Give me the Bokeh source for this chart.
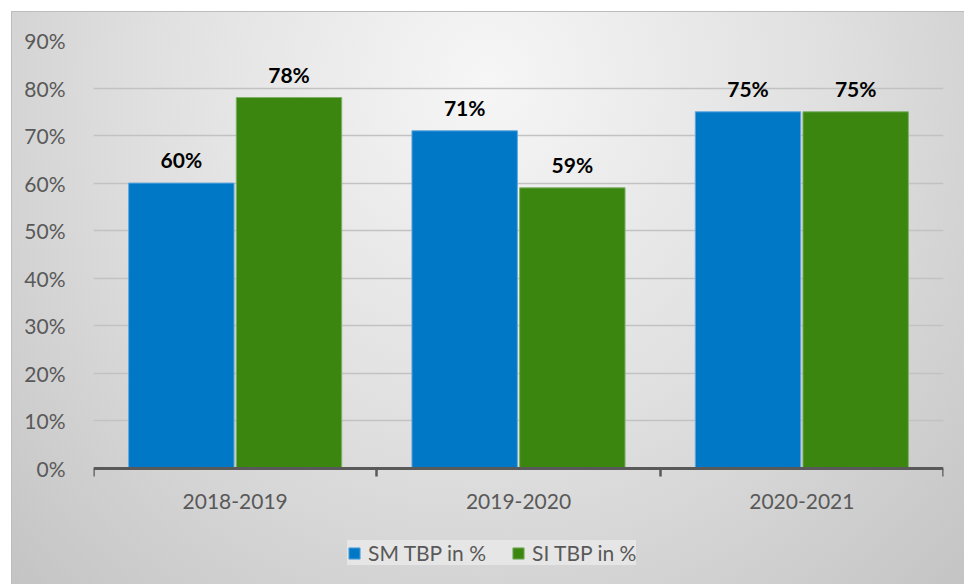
import numpy as np
from bokeh.plotting import figure
from bokeh.models import FixedTicker, Legend, LegendItem, Range1d, NumeralTickFormatter, LinearAxis
from bokeh.core.properties import value
from bokeh.embed import file_html
from bokeh.resources import INLINE

# ---- data ----
categories = ["2018-2019", "2019-2020", "2020-2021"]
series_names = ["SM TBP in %", "SI TBP in %"]
sm_tbp = [0.60, 0.71, 0.75]
si_tbp = [0.78, 0.59, 0.75]
y_ticks = [0.0, 0.1, 0.2, 0.3, 0.4, 0.5, 0.6, 0.7, 0.8, 0.9]

FONT = "Lato"
BLUE, BLUE_EDGE = "#0078C6", "#5FA6DE"
GREEN, GREEN_EDGE = "#3A860F", "#7DB066"

n = len(categories)
x_center = np.arange(n) + 0.5
offset, bar_w = 0.19, 0.372

# frame extends below zero so that the axis labels and legend sit inside it
p = figure(width=953, height=573, x_range=Range1d(0, n), y_range=Range1d(-0.2466, y_ticks[-1]),
           output_backend="svg", toolbar_location=None, x_axis_location=None,
           min_border_left=81, min_border_right=22, min_border_top=28, min_border_bottom=0)
p.margin = (11, 0, 0, 11)
p.background_fill_alpha = 0
p.border_fill_alpha = 0
p.outline_line_color = None
p.styles = {
    "background": "radial-gradient(ellipse farthest-corner at 50% 12%, #f6f6f6 0%, #e0e0e0 50%, #c4c4c4 100%)",
    "border-top": "1px solid #bcbcbc",
    "border-left": "1px solid #bcbcbc",
}

r_sm = p.vbar(x=x_center - offset, top=sm_tbp, width=bar_w, fill_color=BLUE,
              line_color=BLUE_EDGE, line_width=1)
r_si = p.vbar(x=x_center + offset, top=si_tbp, width=bar_w, fill_color=GREEN,
              line_color=GREEN_EDGE, line_width=1)

for xs, vals in ((x_center - offset, sm_tbp), (x_center + offset, si_tbp)):
    p.text(x=xs, y=vals, text=[f"{round(v * 100)}%" for v in vals],
           text_font=value(FONT), text_font_style="bold", text_font_size="21px",
           text_color="black", text_align="center", text_baseline="bottom", y_offset=-11)

# y axis
p.yaxis.ticker = FixedTicker(ticks=y_ticks)
p.yaxis.formatter = NumeralTickFormatter(format="0%")
p.yaxis.axis_line_color = None
p.yaxis.major_tick_line_color = None
p.yaxis.minor_tick_line_color = None
p.yaxis.major_label_standoff = 22
p.yaxis.major_label_text_font = FONT
p.yaxis.major_label_text_font_size = "21px"
p.yaxis.major_label_text_color = "#595959"

# x axis, pinned at y = 0
xax = LinearAxis(fixed_location=0,
                 ticker=FixedTicker(ticks=list(x_center), minor_ticks=list(np.arange(n + 1))))
xax.major_label_overrides = {float(x): c for x, c in zip(x_center, categories)}
xax.axis_line_color = "#595959"
xax.axis_line_width = 3
xax.major_tick_line_color = None
xax.minor_tick_line_color = "#595959"
xax.minor_tick_line_width = 2.5
xax.minor_tick_out = 8
xax.minor_tick_in = 0
xax.major_label_standoff = 18
xax.major_label_text_font = FONT
xax.major_label_text_font_size = "21px"
xax.major_label_text_color = "#595959"
p.add_layout(xax, "below")

p.xgrid.grid_line_color = None
p.ygrid.ticker = FixedTicker(ticks=y_ticks)
p.ygrid.grid_line_color = "#c2c2c2"
p.ygrid.grid_line_width = 1.5

legend = Legend(items=[LegendItem(label=series_names[0], renderers=[r_sm]),
                       LegendItem(label=series_names[1], renderers=[r_si])],
                orientation="horizontal", location=(254, 20))
legend.background_fill_color = "#ededed"
legend.background_fill_alpha = 0.7
legend.border_line_color = None
legend.glyph_width = 14
legend.glyph_height = 14
legend.label_height = 22
legend.label_standoff = 7
legend.spacing = 25
legend.padding = 20
legend.margin = 0
legend.label_text_font = FONT
legend.label_text_font_size = "21px"
legend.label_text_color = "#595959"
p.add_layout(legend, "center")

open("out.html", "w").write(file_html(p, INLINE))
